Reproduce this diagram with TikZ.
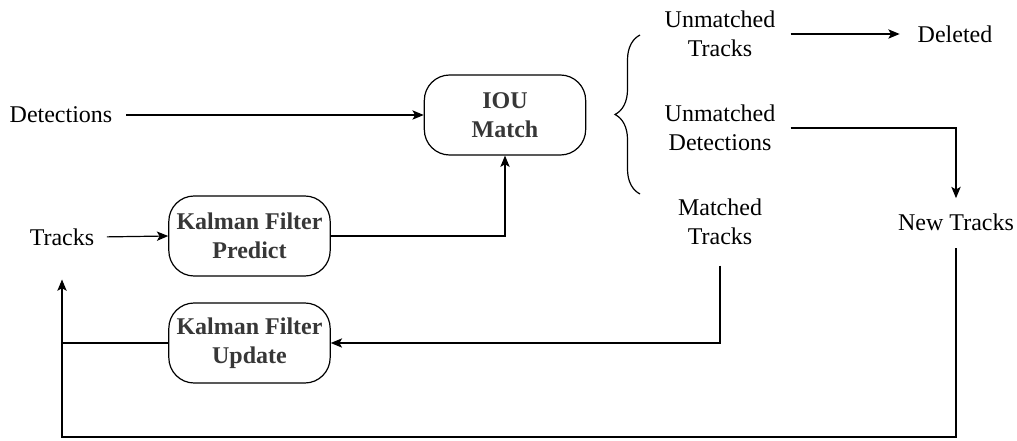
\documentclass[tikz,border=0pt]{standalone}
\usepackage{fontspec}
\setmainfont{Liberation Serif}
\usepackage{tikz}
\usetikzlibrary{arrows.meta,positioning,calc,decorations.pathreplacing}
\definecolor{boxtext}{RGB}{55,55,55}

\begin{document}
\begin{tikzpicture}[x=0.75pt,y=-0.75pt,
    lbl/.style={align=center,font=\fontsize{18}{21.75}\selectfont},
    procbox/.style={lbl,draw,rounded corners=19pt,line width=0.9pt,minimum width=121pt,minimum height=60pt,text=boxtext,font=\fontsize{18}{21.75}\selectfont\bfseries},
    conn/.style={line width=0.9pt},
    arr/.style={conn,-{Stealth[length=8.5pt,width=7pt,inset=2pt]}}]
    \useasboundingbox (0,0) rectangle (1017,441);

    % Inputs
    \node[lbl] (det) at (61,115) {Detections};
    \node[lbl] (tracks) at (62,237) {Tracks};

    % Processing boxes
    \node[procbox] (iou) at (505,115) {IOU\\Match};
    \node[procbox] (kfpredict) at (249.5,236) {Kalman Filter\\Predict};
    \node[procbox] (kfupdate) at (249.5,343) {Kalman Filter\\Update};

    % Match results
    \node[lbl] (unmtracks) at (720,34) {Unmatched\\Tracks};
    \node[lbl] (unmdet) at (720,128) {Unmatched\\Detections};
    \node[lbl] (mtracks) at (720,222) {Matched\\Tracks};
    \node[lbl] (deleted) at (955,34) {Deleted};
    \node[lbl] (newtracks) at (956,222) {New Tracks};

    % Brace
    \coordinate (brbot) at (640,194);
    \coordinate (brtop) at (640,35);
    \draw[conn,decorate,decoration={brace,amplitude=18.75pt}] (brbot) -- (brtop);

    % Connections
    \coordinate (loopbl) at (62,437);
    \draw[arr,shorten <=7pt] (det.east) -- (iou.west);
    \draw[arr,shorten <=6pt] (tracks.east) -- (kfpredict.west);
    \draw[arr] (kfpredict.east) -| (iou.south);
    \draw[arr,shorten <=8pt,shorten >=10pt] (unmtracks.east) -- (deleted.west);
    \draw[arr,shorten <=8pt,shorten >=8pt] (unmdet.east) -| (newtracks.north);
    \draw[arr,shorten <=12pt] (mtracks.south) |- (kfupdate.east);
    \draw[conn] (kfupdate.west) -- (loopbl |- kfupdate.west);
    \draw[arr,shorten <=10pt,shorten >=22pt] (newtracks.south) |- (loopbl) -- (tracks.south);
\end{tikzpicture}
\end{document}
